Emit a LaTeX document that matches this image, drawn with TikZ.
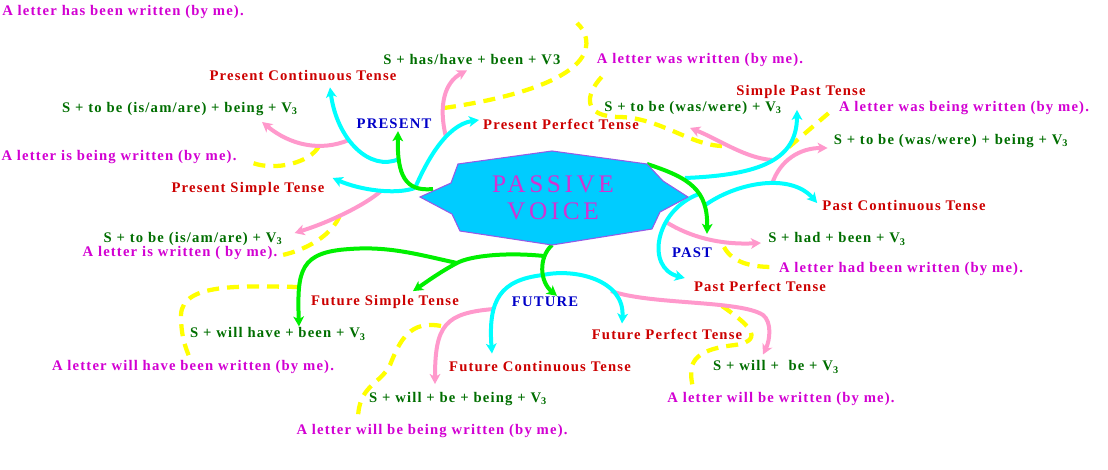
\documentclass[tikz,border=0pt]{standalone}
\usepackage{fontspec}
\setmainfont{Liberation Serif}[LetterSpace=8]
\usetikzlibrary{arrows.meta}

\definecolor{tensered}{RGB}{204,0,0}
\definecolor{formgreen}{RGB}{0,110,0}
\definecolor{samplemag}{RGB}{210,0,210}
\definecolor{groupblue}{RGB}{0,0,200}
\definecolor{linecyan}{RGB}{0,255,255}
\definecolor{linepink}{RGB}{255,153,204}
\definecolor{lineyellow}{RGB}{255,255,0}
\definecolor{linegreen}{RGB}{0,240,0}
\definecolor{voicefill}{RGB}{0,204,255}
\definecolor{voiceedge}{RGB}{150,90,230}
\definecolor{voicetext}{RGB}{210,50,210}

\newcommand{\Vt}{V\textsubscript{3}}

\begin{document}
\begin{tikzpicture}[
    x=0.75pt, y=0.75pt,
    font=\bfseries\fontsize{11}{13}\selectfont,
    every node/.style = {
      inner sep=0pt,
      anchor=center
    },
    tense/.style = {text=tensered},
    form/.style = {text=formgreen},
    sample/.style = {text=samplemag},
    group/.style = {text=groupblue},
    arrowtip/.style = {-{Stealth[length=7.5pt,width=8pt,inset=2pt]}},
    greenarrow/.style = {draw=linegreen, line width=3pt, arrowtip},
    cyanarrow/.style = {draw=linecyan, line width=3pt, arrowtip},
    pinkarrow/.style = {draw=linepink, line width=3pt, arrowtip},
    dashline/.style = {draw=lineyellow, line width=3.2pt, dash pattern=on 9pt off 6pt}
  ]
  \useasboundingbox (0,0) rectangle (1108,-470);

  \node[sample] (exhas) at (123,-12) {A letter has been written (by me).};
  \node[form] (fmhas) at (472,-60) {S + has/have + been + V3};
  \node[sample] (exwas) at (700,-60) {A letter was written (by me).};
  \node[tense] (tpcont) at (303,-76) {Present Continuous Tense};
  \node[tense] (tspast) at (801,-92) {Simple Past Tense};
  \node[form] (fmisbeing) at (180,-109) {S + to be (is/am/are) + being + \Vt};
  \node[form] (fmwas) at (693,-108) {S + to be (was/were) + \Vt};
  \node[sample] (exwasbeing) at (964,-108) {A letter was being written (by me).};
  \node[group] (present) at (394,-124) {PRESENT};
  \node[tense] (tpperf) at (561,-124) {Present Perfect Tense};
  \node[form] (fmwasbeing) at (951,-141) {S + to be (was/were) + being + \Vt};
  \node[sample] (exisbeing) at (119,-157) {A letter is being written (by me).};
  \node[tense] (tpsimple) at (248,-189) {Present Simple Tense};
  \node[tense] (tpastcont) at (904,-206) {Past Continuous Tense};
  \node[form] (fmis) at (193,-239) {S + to be (is/am/are) + \Vt};
  \node[sample] (exis) at (180,-253) {A letter is written ( by me).};
  \node[form] (fmhad) at (837,-239) {S + had + been + \Vt};
  \node[group] (past) at (692,-253) {PAST};
  \node[sample] (exhad) at (901,-269) {A letter had been written (by me).};
  \node[tense] (tpastperf) at (760,-286) {Past Perfect Tense};
  \node[tense] (tfsimple) at (385,-302) {Future Simple Tense};
  \node[group] (future) at (545,-302) {FUTURE};
  \node[form] (fmwillhave) at (278,-334) {S + will have + been + \Vt};
  \node[tense] (tfperf) at (667,-334) {Future Perfect Tense};
  \node[sample] (exwillhave) at (193,-367) {A letter will have been written (by me).};
  \node[tense] (tfcont) at (540,-367) {Future Continuous Tense};
  \node[form] (fmwill) at (776,-367) {S + will +\ \ be + \Vt};
  \node[form] (fmwillbeing) at (458,-399) {S + will + be + being + \Vt};
  \node[sample] (exwill) at (781,-399) {A letter will be written (by me).};
  \node[sample] (exwillbeing) at (432,-431) {A letter will be being written (by me).};

  \coordinate (vtopright) at (647,-164);
  \coordinate (vbottom) at (552,-245);
  \coordinate (pj) at (433,-189);
  \coordinate (pc) at (415,-188);
  \coordinate (pg) at (399,-159);
  \coordinate (pp) at (349,-140);
  \coordinate (py1) at (319,-146);
  \coordinate (pb) at (381,-191);
  \coordinate (py2) at (340,-215);
  \coordinate (pa) at (446,-137);
  \coordinate (py3) at (444,-108);
  \coordinate (yhasend) at (577,-23);
  \coordinate (qc) at (685,-178);
  \coordinate (qa) at (772,-160);
  \coordinate (qw) at (722,-146);
  \coordinate (qy1) at (789,-147);
  \coordinate (qg1) at (704,-206);
  \coordinate (qg2) at (699,-194);
  \coordinate (qb) at (772,-184);
  \coordinate (qp) at (666,-222);
  \coordinate (qy2) at (724,-247);
  \coordinate (fj) at (544,-256);
  \coordinate (fl) at (457,-263);
  \coordinate (fy3) at (299,-287);
  \coordinate (fc) at (543,-275);
  \coordinate (fp1) at (494,-309);
  \coordinate (fy2) at (441,-326);
  \coordinate (fp2) at (611,-291);
  \coordinate (fy1) at (722,-306);

  % yellow dashes
  \draw[dashline] (py1) .. controls (310,-163) and (275,-171) .. ([shift={(16,-6)}]exisbeing.east);
  \draw[dashline] (py2) .. controls (332,-236) and (305,-250) .. ([shift={(5,-2)}]exis.east);
  \draw[dashline] (py3) .. controls (500,-100) and (560,-85) .. (580,-60) .. controls (592,-45) and (585,-30) .. (yhasend);
  \draw[dashline] ([shift={(5,-10)}]exwas.south west) .. controls (585,-95) and (582,-117) .. (620,-117) .. controls (660,-118) and (690,-145) .. (qw);
  \draw[dashline] (qy1) -- ([shift={(-10,-5)}]exwasbeing.west);
  \draw[dashline] (qy2) .. controls (732,-262) and (750,-267) .. ([shift={(-6,2)}]exhad.west);
  \draw[dashline] (fy1) .. controls (745,-322) and (768,-340) .. (735,-345) .. controls (690,-350) and (688,-365) .. ([shift={(-88,4)}]exwill.north);
  \draw[dashline] (fy2) .. controls (410,-320) and (400,-340) .. (390,-365) .. controls (380,-385) and (358,-385) .. ([shift={(-74,4)}]exwillbeing.north);
  \draw[dashline] (fy3) .. controls (240,-286) and (182,-283) .. (181,-315) .. controls (181,-340) and (187,-350) .. ([shift={(-3,1)}]exwillhave.north);

  % pink
  \draw[pinkarrow] (pp) .. controls (320,-152) and (290,-145) .. ([shift={(-36,-6)}]fmisbeing.south east);
  \draw[pinkarrow] (pb) .. controls (365,-205) and (330,-222) .. ([shift={(12,6)}]fmis.east);
  \draw[pinkarrow] (pa) .. controls (438,-105) and (445,-82) .. ([shift={(-5,-5)}]fmhas.south);
  \draw[pinkarrow] (qa) .. controls (745,-158) and (720,-140) .. ([shift={(-3,-13)}]fmwas.south);
  \draw[pinkarrow] (qb) .. controls (780,-160) and (800,-148) .. ([shift={(-6,-7)}]fmwasbeing.west);
  \draw[pinkarrow] (qp) .. controls (690,-237) and (720,-245) .. ([shift={(-7,-4)}]fmhad.west);
  \draw[pinkarrow] (fp1) .. controls (445,-313) and (435,-325) .. ([shift={(-23,8)}]fmwillbeing.north);
  \draw[pinkarrow] (fp2) .. controls (650,-305) and (740,-300) .. (763,-315) .. controls (772,-322) and (770,-340) .. ([shift={(-13,6)}]fmwill.north);

  % cyan
  \draw[cyanarrow] (pc) .. controls (425,-165) and (445,-125) .. ([shift={(-4,4)}]tpperf.west);
  \draw[cyanarrow] (pc) .. controls (395,-195) and (360,-190) .. ([shift={(8,11)}]tpsimple.east);
  \draw[cyanarrow] (pg) .. controls (370,-172) and (337,-140) .. ([shift={(27,-6)}]tpcont.south);
  \draw[cyanarrow] (qc) .. controls (760,-175) and (797,-160) .. ([shift={(-4,-11)}]tspast.south);
  \draw[cyanarrow] (qg1) .. controls (735,-183) and (790,-172) .. ([shift={(-5,3)}]tpastcont.west);
  \draw[cyanarrow] (qg2) .. controls (655,-210) and (645,-268) .. ([shift={(-9,8)}]tpastperf.west);
  \draw[cyanarrow] (fc) .. controls (500,-280) and (488,-300) .. ([shift={(-48,8)}]tfcont.north);
  \draw[cyanarrow] (fc) .. controls (575,-268) and (625,-280) .. ([shift={(-45,5)}]tfperf.north);

  % green
  \draw[greenarrow] (pj) .. controls (405,-192) and (397,-175) .. ([shift={(4,-2)}]present.south);
  \draw[greenarrow] (vtopright) .. controls (690,-178) and (708,-190) .. ([shift={(15,14)}]past.north);
  \draw[greenarrow] (vbottom) .. controls (538,-258) and (540,-282) .. ([shift={(12,1)}]future.north);
  \draw[greenarrow] (fj) .. controls (505,-252) and (470,-256) .. (fl) .. controls (440,-272) and (425,-283) .. ([shift={(28,4)}]tfsimple.north);
  \draw[greenarrow] (fl) .. controls (420,-255) and (390,-246) .. (350,-249) .. controls (300,-252) and (297,-270) .. ([shift={(21,1)}]fmwillhave.north);

  \filldraw[fill=voicefill, draw=voiceedge, line width=0.8pt]
    (420,-197) -- (451,-183) -- (458,-164) -- (552,-151) -- (647,-164) -- (663,-181)
    -- (688,-197) -- (660,-212) -- (652,-229) -- (552,-245) -- (460,-231) -- (452,-214) -- cycle;
  \node[text=voicetext, align=center, font=\mdseries\fontsize{19}{20}\selectfont\addfontfeature{LetterSpace=14}] (voice) at (553,-198) {PASSIVE\\VOICE};

\end{tikzpicture}
\end{document}
